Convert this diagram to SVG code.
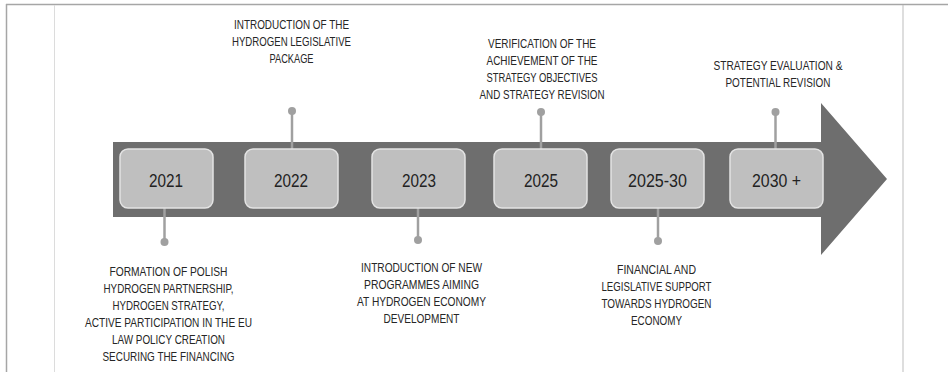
<svg xmlns="http://www.w3.org/2000/svg" width="948" height="372" viewBox="0 0 948 372">
<style>
.frame{stroke:#a6a6a6;stroke-width:1.5;fill:none}
.inner{stroke:#dcdcdc;stroke-width:1;fill:none}
.box{fill:#bfbfbf;stroke:#e4e4e4;stroke-width:1.5}
.yr{font-family:"Liberation Sans",Arial,sans-serif;font-size:18.5px;fill:#222222;text-anchor:middle}
.lbl{font-family:"Liberation Sans",Arial,sans-serif;font-size:13px;fill:#262626;text-anchor:middle}
.con{stroke:#a0a0a0;stroke-width:2.5;fill:none}
.dot{fill:#a0a0a0}
</style>
<rect width="948" height="372" fill="#ffffff"/>
<g id="frame">
<line class="frame" x1="6" y1="4.5" x2="948" y2="4.5"/>
<line class="frame" x1="6.5" y1="4" x2="6.5" y2="372"/>
<line class="inner" x1="54.5" y1="5" x2="54.5" y2="372"/>
<line class="frame" x1="903" y1="5" x2="903" y2="372" style="stroke:#bdbdbd;stroke-width:1"/>
</g>
<g id="arrow">
<path d="M113,142 H821 V103 L887,179 L821,255 V217 H113 Z" fill="#6e6e6e"/>
</g>
<g id="connectors">
<line class="con" x1="292" y1="111" x2="292" y2="149"/>
<circle class="dot" cx="292" cy="111" r="4"/>
<line class="con" x1="541" y1="112" x2="541" y2="149"/>
<circle class="dot" cx="541" cy="112" r="4"/>
<line class="con" x1="775.5" y1="112" x2="775.5" y2="149"/>
<circle class="dot" cx="775.5" cy="112" r="4"/>
<line class="con" x1="164.5" y1="208" x2="164.5" y2="242"/>
<circle class="dot" cx="164.5" cy="242" r="4"/>
<line class="con" x1="418" y1="208" x2="418" y2="240"/>
<circle class="dot" cx="418" cy="240" r="4"/>
<line class="con" x1="658" y1="208" x2="658" y2="241"/>
<circle class="dot" cx="658" cy="241" r="4"/>
</g>
<g id="n2021">
<rect class="box" x="120" y="149" width="93" height="59" rx="8"/>
<text class="yr" x="166" y="186.5" textLength="34" lengthAdjust="spacingAndGlyphs">2021</text>
<text class="lbl" x="168.5" y="275.5" textLength="118" lengthAdjust="spacingAndGlyphs">FORMATION OF POLISH</text>
<text class="lbl" x="168.5" y="292.5" textLength="130" lengthAdjust="spacingAndGlyphs">HYDROGEN PARTNERSHIP,</text>
<text class="lbl" x="168.5" y="309.5" textLength="112" lengthAdjust="spacingAndGlyphs">HYDROGEN STRATEGY,</text>
<text class="lbl" x="168.5" y="326.5" textLength="167" lengthAdjust="spacingAndGlyphs">ACTIVE PARTICIPATION IN THE EU</text>
<text class="lbl" x="168.5" y="343.5" textLength="113" lengthAdjust="spacingAndGlyphs">LAW POLICY CREATION</text>
<text class="lbl" x="168.5" y="360.5" textLength="132" lengthAdjust="spacingAndGlyphs">SECURING THE FINANCING</text>
</g>
<g id="n2022">
<rect class="box" x="245" y="149" width="93" height="59" rx="8"/>
<text class="yr" x="291" y="186.5" textLength="34" lengthAdjust="spacingAndGlyphs">2022</text>
<text class="lbl" x="291.5" y="29" textLength="115" lengthAdjust="spacingAndGlyphs">INTRODUCTION OF THE</text>
<text class="lbl" x="291.5" y="46" textLength="119" lengthAdjust="spacingAndGlyphs">HYDROGEN LEGISLATIVE</text>
<text class="lbl" x="291.5" y="63" textLength="44" lengthAdjust="spacingAndGlyphs">PACKAGE</text>
</g>
<g id="n2023">
<rect class="box" x="372" y="149" width="93" height="59" rx="8"/>
<text class="yr" x="419" y="186.5" textLength="34" lengthAdjust="spacingAndGlyphs">2023</text>
<text class="lbl" x="421.5" y="271.5" textLength="121" lengthAdjust="spacingAndGlyphs">INTRODUCTION OF NEW</text>
<text class="lbl" x="421.5" y="288.5" textLength="115" lengthAdjust="spacingAndGlyphs">PROGRAMMES AIMING</text>
<text class="lbl" x="421.5" y="305.5" textLength="129" lengthAdjust="spacingAndGlyphs">AT HYDROGEN ECONOMY</text>
<text class="lbl" x="421.5" y="322.5" textLength="76" lengthAdjust="spacingAndGlyphs">DEVELOPMENT</text>
</g>
<g id="n2025">
<rect class="box" x="494" y="149" width="93" height="59" rx="8"/>
<text class="yr" x="541" y="186.5" textLength="34" lengthAdjust="spacingAndGlyphs">2025</text>
<text class="lbl" x="542" y="47.5" textLength="108" lengthAdjust="spacingAndGlyphs">VERIFICATION OF THE</text>
<text class="lbl" x="542" y="64.5" textLength="111" lengthAdjust="spacingAndGlyphs">ACHIEVEMENT OF THE</text>
<text class="lbl" x="542" y="81.5" textLength="111" lengthAdjust="spacingAndGlyphs">STRATEGY OBJECTIVES</text>
<text class="lbl" x="542" y="98.5" textLength="125" lengthAdjust="spacingAndGlyphs">AND STRATEGY REVISION</text>
</g>
<g id="n2025-30">
<rect class="box" x="611" y="149" width="93" height="59" rx="8"/>
<text class="yr" x="657.5" y="186.5" textLength="59" lengthAdjust="spacingAndGlyphs">2025-30</text>
<text class="lbl" x="656.5" y="273.5" textLength="79" lengthAdjust="spacingAndGlyphs">FINANCIAL AND</text>
<text class="lbl" x="656.5" y="290.5" textLength="110" lengthAdjust="spacingAndGlyphs">LEGISLATIVE SUPPORT</text>
<text class="lbl" x="656.5" y="307.5" textLength="110" lengthAdjust="spacingAndGlyphs">TOWARDS HYDROGEN</text>
<text class="lbl" x="656.5" y="324.5" textLength="51" lengthAdjust="spacingAndGlyphs">ECONOMY</text>
</g>
<g id="n2030">
<rect class="box" x="730" y="149" width="93" height="59" rx="8"/>
<text class="yr" x="776.5" y="186.5" textLength="49" lengthAdjust="spacingAndGlyphs">2030 +</text>
<text class="lbl" x="778" y="70" textLength="129" lengthAdjust="spacingAndGlyphs">STRATEGY EVALUATION &amp;</text>
<text class="lbl" x="778" y="87" textLength="105" lengthAdjust="spacingAndGlyphs">POTENTIAL REVISION</text>
</g>
</svg>
